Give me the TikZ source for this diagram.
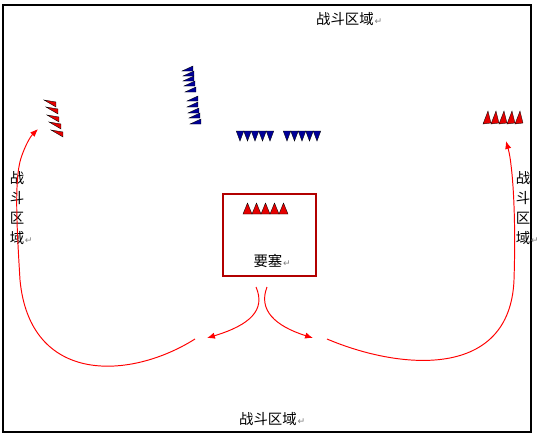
\documentclass[tikz,border=0pt]{standalone}
\usepackage{fontspec}
\usepackage{xcolor}
\newfontfamily\cjk{Noto Sans CJK SC}
\newfontfamily\marksfont{DejaVu Sans}
\usetikzlibrary{arrows.meta}

% paragraph mark after each label
\newcommand{\pmark}{\rlap{\kern0.4pt\marksfont\color{gray}\fontsize{5.2}{5.2}\selectfont ↵}}

\tikzset{
  zonetext/.style={font=\cjk\fontsize{8.2}{11.3}\selectfont, inner sep=0pt, align=center},
  redflag/.style={fill=red!90!black, draw=black, line width=0.2pt},
  blueflag/.style={fill=blue!60!black, draw=black, line width=0.2pt},
  moveline/.style={draw=red, line width=0.55pt, -{Latex[length=4.5pt,width=3.6pt]}},
}

\begin{document}
\begin{tikzpicture}[x=0.02cm, y=-0.02cm]
			\useasboundingbox (0,0) rectangle (539,437);
			
			% Outer frame
			\draw[line width=0.8pt] (3,5) rectangle (531,432);
			
			% Zone labels
			\node[zonetext] (ztop) at (345,19) {战斗区域\pmark};
			\node[zonetext] (zbottom) at (268,419) {战斗区域\pmark};
			\node[zonetext] (zleft) at (17,208) {战\\斗\\区\\域\pmark};
			\node[zonetext] (zright) at (523,208) {战\\斗\\区\\域\pmark};
			
			% Fortress
			\draw[red!70!black, line width=0.6pt] (223,194) rectangle (316,276);
			\node[zonetext] (fort) at (268,261) {要塞\pmark};
			\foreach \cx in {247.5,256.5,265.5,274.5,283.5}
			\draw[redflag] (\cx-4.5,214) -- (\cx+4.5,214) -- (\cx,203) -- cycle;
			
			% Red flags, left
			\foreach \x/\y in {44/103, 46/110, 47/118, 49/125, 51/133}
			\draw[redflag] (\x,\y-3) -- (\x+12,\y-1) -- (\x+12,\y+4) -- cycle;
			
			% Red flags, right
			\foreach \cx in {487,495,503,511,519}
			\draw[redflag] (\cx-4,124) -- (\cx+4,123) -- (\cx+1,111) -- cycle;
			
			% Blue flags, column
			\foreach \x/\y in {182/71, 183/76, 183/81, 184/86, 185/92, 187/101, 187/107, 188/113, 189/118, 190/124}
			\draw[blueflag] (\x,\y) -- (\x+11,\y-5) -- (\x+11,\y) -- cycle;
			
			% Blue flags, row
			\foreach \cx in {240,247.5,255,262.5,270,287,294.5,302,309.5,317}
			\draw[blueflag] (\cx-3.75,131) -- (\cx+3.75,131) -- (\cx,141) -- cycle;
			
			% Movement arrows
			\coordinate (sl) at (256,287);
			\coordinate (sr) at (267,287);
			\coordinate (tl) at (207,338);
			\coordinate (tr) at (313,338);
			\coordinate (ls) at (195,339);
			\coordinate (lm) at (20,280);
			\coordinate (lt) at (38,129);
			\coordinate (rs) at (327,339);
			\coordinate (rm) at (514,280);
			\coordinate (rt) at (506,141);
			
			\draw[moveline] (sl) .. controls (266,310) and (250,325) .. (tl);
			\draw[moveline] (sr) .. controls (258,310) and (275,326) .. (tr);
			\draw[moveline] (ls) .. controls (130,380) and (30,385) .. (lm)
			.. controls (17,230) and (14,180) .. (21,158)
			.. controls (25,146) and (30,137) .. (lt);
			\draw[moveline] (rs) .. controls (400,370) and (510,380) .. (rm)
			.. controls (516,220) and (513,180) .. (511,165)
			.. controls (510,155) and (508,148) .. (rt);
		\end{tikzpicture}
\end{document}
